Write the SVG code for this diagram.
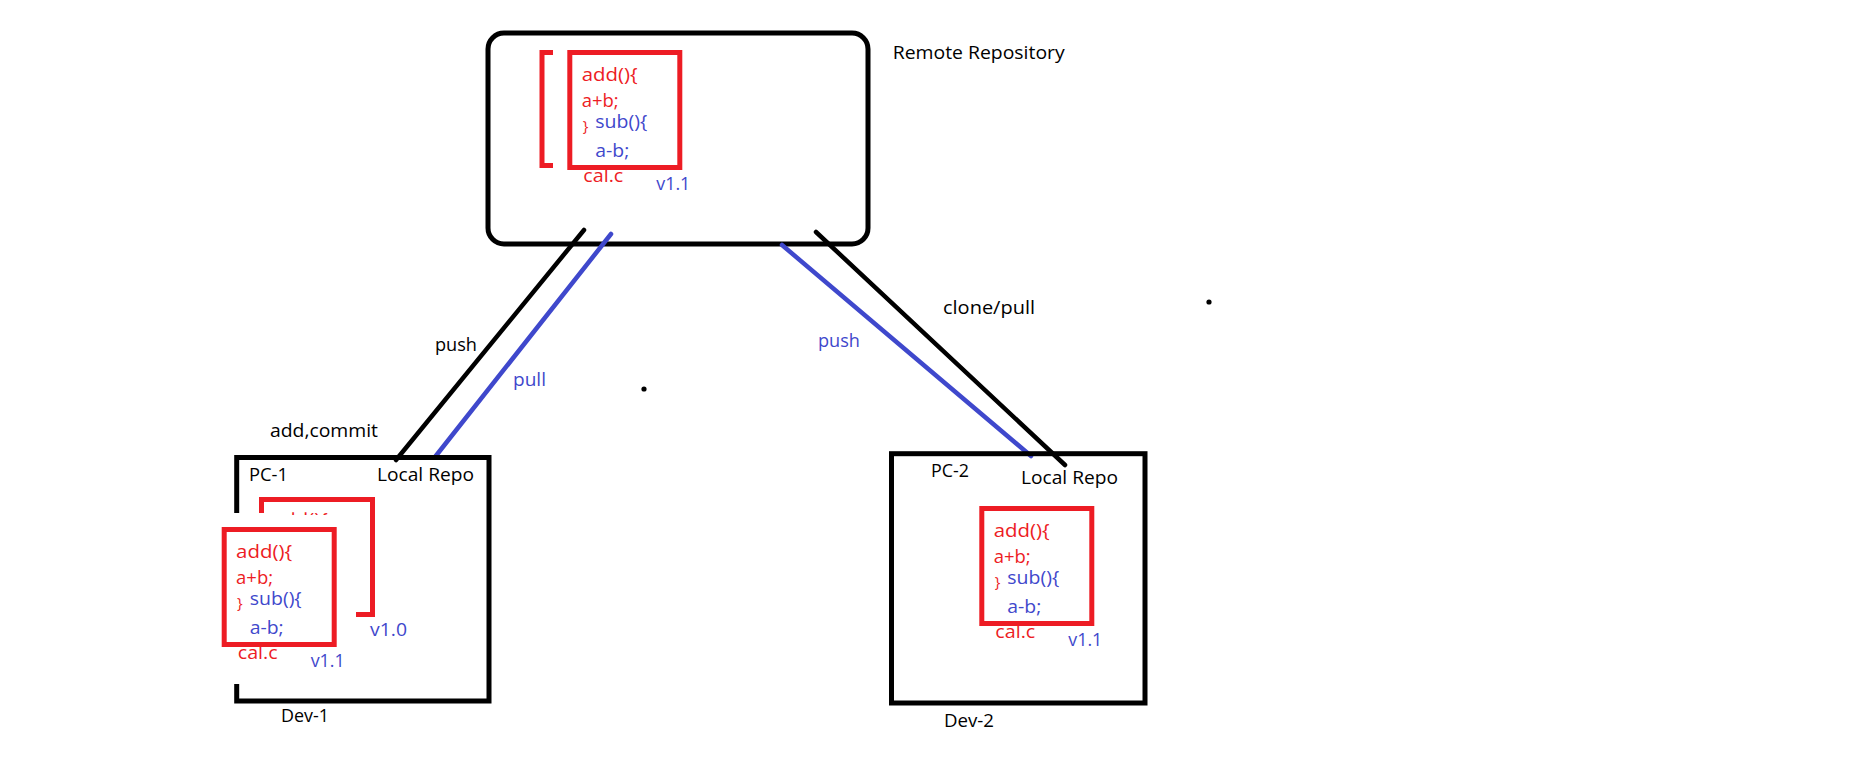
<svg xmlns="http://www.w3.org/2000/svg" width="1866" height="769" viewBox="0 0 1866 769">
<style>
.box{fill:none;stroke:#000;stroke-width:5}
.rbox{fill:none;stroke:#ED1C24;stroke-width:5;stroke-linejoin:miter}
.t{font-family:"Open Sans","Liberation Sans",sans-serif;font-size:19px}
.c{font-family:"Open Sans","Liberation Sans",sans-serif;font-size:18.5px}
.br{font-family:"Open Sans","Liberation Sans",sans-serif;font-size:15px;fill:#ED1C24}
.k{fill:#000}.r{fill:#ED1C24}.b{fill:#3F48CC}
.ln{fill:none;stroke-width:4.5;stroke-linecap:round}
.lk{stroke:#000}.lb{stroke:#3F48CC}
</style>
<defs>
<clipPath id="peek"><rect x="260" y="512.3" width="120" height="2.7"/></clipPath>
</defs>
<rect width="1866" height="769" fill="#fff"/>

<g id="remote">
<rect class="box" x="488" y="33" width="380" height="211" rx="16"/>
<text class="t k" x="892.7" y="59" textLength="172" lengthAdjust="spacingAndGlyphs">Remote Repository</text>
<path class="rbox" d="M553 52.5H542V165.5H553"/>
<g transform="translate(567.3,50)">
<rect class="rbox" x="2.5" y="2.5" width="110" height="115"/>
<text class="c r" x="14.4" y="31" textLength="56" lengthAdjust="spacingAndGlyphs">add(){</text>
<text class="c r" x="14.4" y="57" textLength="37" lengthAdjust="spacingAndGlyphs">a+b;</text>
<text class="br" x="15.4" y="81">}</text>
<text class="c b" x="28" y="78" textLength="52" lengthAdjust="spacingAndGlyphs">sub(){</text>
<text class="c b" x="28" y="106.5" textLength="34" lengthAdjust="spacingAndGlyphs">a-b;</text>
<text class="c r" x="16" y="132" textLength="40" lengthAdjust="spacingAndGlyphs">cal.c</text>
<text class="c b" x="89" y="140" textLength="34" lengthAdjust="spacingAndGlyphs">v1.1</text>
</g>
</g>

<g id="connectors">
<line class="ln lk" x1="584" y1="230" x2="396" y2="460"/>
<line class="ln lb" x1="611" y1="234" x2="435" y2="457"/>
<line class="ln lb" x1="782" y1="245" x2="1031" y2="456"/>
<line class="ln lk" x1="816" y1="232" x2="1065" y2="465"/>
<text class="t k" x="435" y="351" textLength="42" lengthAdjust="spacingAndGlyphs">push</text>
<text class="t b" x="513" y="386" textLength="33" lengthAdjust="spacingAndGlyphs">pull</text>
<text class="t b" x="818" y="347" textLength="42" lengthAdjust="spacingAndGlyphs">push</text>
<text class="t k" x="943" y="314" textLength="92" lengthAdjust="spacingAndGlyphs">clone/pull</text>
<text class="t k" x="270" y="437" textLength="108" lengthAdjust="spacingAndGlyphs">add,commit</text>
</g>

<g id="dots">
<circle cx="644" cy="389" r="2.6" fill="#000"/>
<circle cx="1209" cy="302" r="2.6" fill="#000"/>
</g>

<g id="pc1">
<path class="box" d="M236.7 513V457.5H489V701H236.7V684"/>
<text class="t k" x="249" y="481" textLength="39" lengthAdjust="spacingAndGlyphs">PC-1</text>
<text class="t k" x="377" y="481" textLength="97" lengthAdjust="spacingAndGlyphs">Local Repo</text>
<text class="t k" x="281" y="722" textLength="48" lengthAdjust="spacingAndGlyphs">Dev-1</text>
<g id="pc1-v10">
<path class="rbox" d="M261.5 513V499.5H372.5V614.5H356"/>
<text class="c r" x="272" y="525.5" textLength="56" lengthAdjust="spacingAndGlyphs" clip-path="url(#peek)">add(){</text>
<text class="c b" x="370" y="636" textLength="37" lengthAdjust="spacingAndGlyphs">v1.0</text>
</g>
<g id="pc1-v11" transform="translate(221.7,527)">
<rect class="rbox" x="2.5" y="2.5" width="110" height="115"/>
<text class="c r" x="14.4" y="31" textLength="56" lengthAdjust="spacingAndGlyphs">add(){</text>
<text class="c r" x="14.4" y="57" textLength="37" lengthAdjust="spacingAndGlyphs">a+b;</text>
<text class="br" x="15.4" y="81">}</text>
<text class="c b" x="28" y="78" textLength="52" lengthAdjust="spacingAndGlyphs">sub(){</text>
<text class="c b" x="28" y="106.5" textLength="34" lengthAdjust="spacingAndGlyphs">a-b;</text>
<text class="c r" x="16" y="132" textLength="40" lengthAdjust="spacingAndGlyphs">cal.c</text>
<text class="c b" x="89" y="140" textLength="34" lengthAdjust="spacingAndGlyphs">v1.1</text>
</g>
</g>

<g id="pc2">
<rect class="box" x="891.5" y="453.7" width="253.5" height="249.3"/>
<text class="t k" x="931" y="477" textLength="38" lengthAdjust="spacingAndGlyphs">PC-2</text>
<text class="t k" x="1021" y="484" textLength="97" lengthAdjust="spacingAndGlyphs">Local Repo</text>
<text class="t k" x="944" y="727" textLength="50" lengthAdjust="spacingAndGlyphs">Dev-2</text>
<g transform="translate(979.3,506)">
<rect class="rbox" x="2.5" y="2.5" width="110" height="115"/>
<text class="c r" x="14.4" y="31" textLength="56" lengthAdjust="spacingAndGlyphs">add(){</text>
<text class="c r" x="14.4" y="57" textLength="37" lengthAdjust="spacingAndGlyphs">a+b;</text>
<text class="br" x="15.4" y="81">}</text>
<text class="c b" x="28" y="78" textLength="52" lengthAdjust="spacingAndGlyphs">sub(){</text>
<text class="c b" x="28" y="106.5" textLength="34" lengthAdjust="spacingAndGlyphs">a-b;</text>
<text class="c r" x="16" y="132" textLength="40" lengthAdjust="spacingAndGlyphs">cal.c</text>
<text class="c b" x="89" y="140" textLength="34" lengthAdjust="spacingAndGlyphs">v1.1</text>
</g>
</g>
</svg>
